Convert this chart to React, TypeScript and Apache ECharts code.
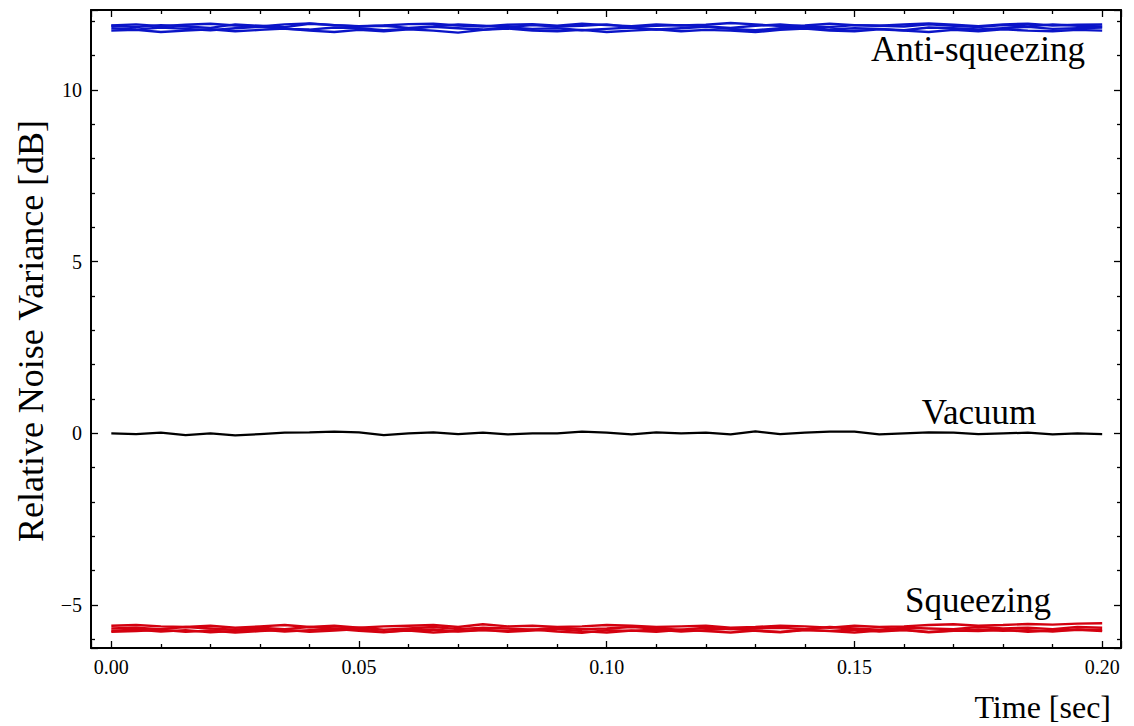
import React, { useEffect, useRef } from "react";
import * as echarts from "echarts";

const times = [
  0.0, 0.005, 0.01, 0.015, 0.02, 0.025, 0.03, 0.035, 0.04, 0.045,
  0.05, 0.055, 0.06, 0.065, 0.07, 0.075, 0.08, 0.085, 0.09, 0.095,
  0.1, 0.105, 0.11, 0.115, 0.12, 0.125, 0.13, 0.135, 0.14, 0.145,
  0.15, 0.155, 0.16, 0.165, 0.17, 0.175, 0.18, 0.185, 0.19, 0.195, 0.2,
];

const antiA = [11.88, 11.91, 11.86, 11.90, 11.93, 11.88, 11.85, 11.91, 11.94, 11.89, 11.86, 11.88, 11.92, 11.93, 11.88, 11.85, 11.90, 11.92, 11.87, 11.93, 11.89, 11.86, 11.91, 11.88, 11.90, 11.95, 11.91, 11.86, 11.88, 11.93, 11.89, 11.87, 11.91, 11.94, 11.90, 11.86, 11.91, 11.93, 11.88, 11.90, 11.91];
const antiB = [11.87, 11.83, 11.89, 11.85, 11.81, 11.91, 11.87, 11.83, 11.93, 11.89, 11.85, 11.87, 11.81, 11.85, 11.91, 11.87, 11.83, 11.89, 11.85, 11.87, 11.91, 11.83, 11.87, 11.89, 11.85, 11.81, 11.87, 11.91, 11.85, 11.83, 11.89, 11.87, 11.85, 11.91, 11.87, 11.83, 11.89, 11.85, 11.91, 11.87, 11.85];
const antiC = [11.80, 11.76, 11.82, 11.78, 11.74, 11.80, 11.84, 11.78, 11.76, 11.82, 11.80, 11.74, 11.78, 11.84, 11.80, 11.76, 11.82, 11.78, 11.80, 11.74, 11.78, 11.82, 11.76, 11.80, 11.84, 11.78, 11.74, 11.80, 11.82, 11.76, 11.80, 11.78, 11.74, 11.82, 11.80, 11.76, 11.80, 11.84, 11.78, 11.80, 11.82];
const antiD = [11.73, 11.75, 11.69, 11.73, 11.77, 11.71, 11.75, 11.79, 11.73, 11.69, 11.75, 11.71, 11.77, 11.73, 11.67, 11.75, 11.79, 11.73, 11.71, 11.75, 11.69, 11.73, 11.77, 11.71, 11.75, 11.73, 11.69, 11.75, 11.79, 11.73, 11.71, 11.77, 11.73, 11.69, 11.75, 11.71, 11.77, 11.73, 11.71, 11.75, 11.73];

const vacuum = [0.00, -0.02, 0.02, -0.05, 0.00, -0.06, -0.02, 0.02, 0.03, 0.05, 0.03, -0.05, 0.00, 0.03, -0.02, 0.02, -0.03, 0.00, 0.00, 0.05, 0.02, -0.03, 0.03, 0.00, 0.02, -0.03, 0.06, -0.02, 0.02, 0.05, 0.05, -0.03, 0.00, 0.03, 0.02, -0.02, 0.00, 0.02, -0.03, 0.00, -0.02];

const sqzA = [-5.60, -5.58, -5.62, -5.64, -5.60, -5.66, -5.62, -5.58, -5.64, -5.60, -5.66, -5.62, -5.60, -5.58, -5.64, -5.56, -5.62, -5.60, -5.64, -5.62, -5.58, -5.60, -5.64, -5.62, -5.60, -5.66, -5.64, -5.60, -5.62, -5.66, -5.60, -5.64, -5.62, -5.58, -5.56, -5.60, -5.58, -5.55, -5.57, -5.54, -5.53];
const sqzB = [-5.68, -5.66, -5.70, -5.64, -5.68, -5.72, -5.66, -5.70, -5.64, -5.68, -5.66, -5.72, -5.68, -5.64, -5.70, -5.66, -5.68, -5.72, -5.66, -5.70, -5.68, -5.64, -5.68, -5.72, -5.66, -5.70, -5.68, -5.66, -5.70, -5.64, -5.68, -5.72, -5.66, -5.68, -5.70, -5.64, -5.68, -5.66, -5.70, -5.64, -5.66];
const sqzC = [-5.75, -5.71, -5.77, -5.73, -5.79, -5.75, -5.71, -5.77, -5.73, -5.69, -5.75, -5.79, -5.73, -5.71, -5.77, -5.73, -5.75, -5.71, -5.77, -5.81, -5.73, -5.75, -5.71, -5.77, -5.73, -5.69, -5.75, -5.79, -5.73, -5.75, -5.71, -5.77, -5.73, -5.79, -5.75, -5.71, -5.75, -5.73, -5.77, -5.71, -5.73];
const sqzD = [-5.78, -5.76, -5.72, -5.78, -5.74, -5.80, -5.76, -5.72, -5.78, -5.74, -5.70, -5.78, -5.74, -5.80, -5.76, -5.72, -5.78, -5.74, -5.70, -5.76, -5.80, -5.74, -5.78, -5.72, -5.76, -5.80, -5.74, -5.78, -5.72, -5.76, -5.80, -5.74, -5.72, -5.78, -5.74, -5.76, -5.72, -5.78, -5.74, -5.72, -5.76];

const BLUE = "#0a14c8";
const RED = "#d4000f";
const BLACK = "#000000";
const FONT = "Liberation Serif";

const pairs = (vals: number[]) => vals.map((v, i) => [times[i], v]);

export default function App() {
  const ref = useRef<HTMLDivElement>(null);
  useEffect(() => {
    document.body.style.margin = "0";
    const chart = echarts.init(ref.current!, undefined, { renderer: "svg" });
    const tickCommon = {
      axisTick: { show: true, inside: true, length: 7, lineStyle: { color: "#000", width: 1.3 } },
      minorTick: { show: true, splitNumber: 5, length: 4, lineStyle: { color: "#000", width: 1.3 } },
      axisLine: { show: true, onZero: false, lineStyle: { color: "#000", width: 2 } },
      splitLine: { show: false },
      minorSplitLine: { show: false },
    };
    const xBase = { type: "value", min: -0.0041, max: 0.2038, minInterval: 0.05, maxInterval: 0.05, ...tickCommon };
    const yBase = { type: "value", min: -6.25, max: 12.33, minInterval: 5, maxInterval: 5, ...tickCommon };
    const mkLine = (vals: number[], color: string, width: number) => ({
      type: "line",
      data: pairs(vals),
      showSymbol: false,
      symbol: "none",
      lineStyle: { color, width },
      xAxisIndex: 0,
      yAxisIndex: 0,
      silent: true,
    });
    chart.setOption({
      animation: false,
      backgroundColor: "#fff",
      grid: { left: 91, top: 10, width: 1030, height: 638, containLabel: false },
      xAxis: [
        {
          ...xBase,
          position: "bottom",
          axisLabel: {
            show: true, showMinLabel: false, showMaxLabel: false, margin: 9,
            fontFamily: FONT, fontSize: 20, color: "#000",
            formatter: (v: number) => v.toFixed(2),
          },
        },
        { ...xBase, position: "top", axisLabel: { show: false } },
      ],
      yAxis: [
        {
          ...yBase,
          position: "left",
          axisLabel: {
            show: true, showMinLabel: false, showMaxLabel: false, margin: 9,
            fontFamily: FONT, fontSize: 20, color: "#000",
            formatter: (v: number) => String(v).replace("-", "\u2212"),
          },
        },
        { ...yBase, position: "right", axisLabel: { show: false } },
      ],
      series: [
        mkLine(antiA, BLUE, 2.4),
        mkLine(antiB, BLUE, 2.4),
        mkLine(antiC, BLUE, 2.4),
        mkLine(antiD, BLUE, 2.4),
        mkLine(vacuum, BLACK, 2.2),
        mkLine(sqzA, RED, 2.4),
        mkLine(sqzB, RED, 2.4),
        mkLine(sqzC, RED, 2.4),
        mkLine(sqzD, RED, 2.4),
      ],
      graphic: [
        { type: "text", x: 978, y: 49, style: { text: "Anti-squeezing", fontFamily: FONT, fontSize: 35, fill: "#000", align: "center", verticalAlign: "middle" } },
        { type: "text", x: 979, y: 412, style: { text: "Vacuum", fontFamily: FONT, fontSize: 35, fill: "#000", align: "center", verticalAlign: "middle" } },
        { type: "text", x: 978, y: 600, style: { text: "Squeezing", fontFamily: FONT, fontSize: 35, fill: "#000", align: "center", verticalAlign: "middle" } },
        { type: "text", x: 1111, y: 707, style: { text: "Time [sec]", fontFamily: FONT, fontSize: 32, fill: "#000", align: "right", verticalAlign: "middle" } },
        { type: "text", x: 31, y: 331, rotation: Math.PI / 2, style: { text: "Relative Noise Variance [dB]", fontFamily: FONT, fontSize: 36, fill: "#000", align: "center", verticalAlign: "middle" } },
      ],
    });
    return () => chart.dispose();
  }, []);
  return <div ref={ref} style={{ position: "fixed", left: 0, top: 0, width: 1134, height: 726 }} />;
}
